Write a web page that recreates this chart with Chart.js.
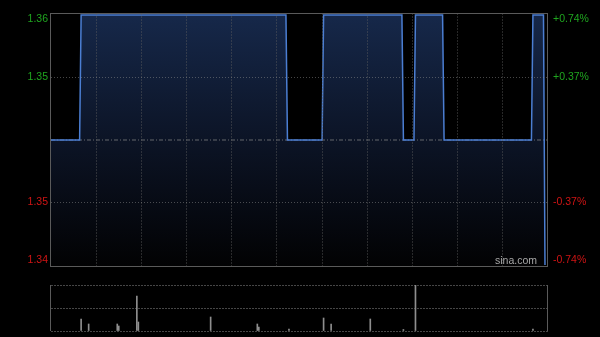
<!DOCTYPE html>
<html><head><meta charset="utf-8">
<script src="https://cdn.jsdelivr.net/npm/chart.js@4/dist/chart.umd.min.js"></script>
<style>html,body{margin:0;padding:0;background:#000;width:600px;height:337px;overflow:hidden}
canvas{position:absolute;left:0;top:0}</style></head>
<body>
<canvas id="main" width="600" height="337"></canvas>
<canvas id="vol" width="600" height="337"></canvas>
<script>
// Price path: minute index of each turning point and price there
const minutes = [0,19,20,156,157,180,181,233,234,241,242,260,261,319,320,327,328];
const prices  = [1.35,1.35,1.36,1.36,1.35,1.35,1.36,1.36,1.35,1.35,1.36,1.36,1.35,1.35,1.36,1.36,1.34];
const prevClose = 1.35;
const sessionMinutes = 330;
const priceTicks = [1.36, 1.355, 1.345, 1.34];
const priceTickLabels = ['1.36', '1.35', '1.35', '1.34'];
const pctTickLabels = ['+0.74%', '+0.37%', '-0.37%', '-0.74%'];
// Volume bars (relative units)
const volMinutes = [20,25,44,45,57,58,106,137,138,158,181,186,212,234,242,320];
const volumes    = [12,7,7,5,35,9,14,7,4,2,13,7,12,1.5,46,2];

const GREEN = '#1fa51f', RED = '#d01414', FONT = '"Liberation Sans", Arial, sans-serif';

const gradFn = (c) => {
  const ca = c.chart.chartArea;
  if (!ca) return 'rgba(20,35,65,1)';
  const g = c.chart.ctx.createLinearGradient(0, ca.top, 0, ca.bottom);
  g.addColorStop(0, '#16284a');
  g.addColorStop(0.5, '#0c1426');
  g.addColorStop(1, '#020203');
  return g;
};

const mainDecor = {
  id: 'mainDecor',
  afterDraw(chart) {
    const {ctx, chartArea: a, scales} = chart;
    ctx.save();
    ctx.strokeStyle = '#5a5a5a'; ctx.lineWidth = 1;
    ctx.strokeRect(Math.round(a.left) - 0.5, Math.round(a.top) + 0.5, Math.round(a.right - a.left), Math.round(a.bottom - a.top));
    ctx.font = '10.5px ' + FONT;
    ctx.textBaseline = 'middle';
    const y = scales.y;
    priceTicks.forEach((v, i) => {
      let py = y.getPixelForValue(v);
      if (i === 0) py += 4;
      if (i === priceTicks.length - 1) py -= 5;
      ctx.fillStyle = v > prevClose ? GREEN : RED;
      ctx.textAlign = 'right';
      ctx.fillText(priceTickLabels[i], a.left - 3, py);
      ctx.textAlign = 'left';
      ctx.fillText(pctTickLabels[i], a.right + 5, py);
    });
    ctx.fillStyle = '#a8a8a8';
    ctx.textAlign = 'right';
    ctx.fillText('sina.com', a.right - 11, a.bottom - 5);
    ctx.restore();
  }
};

new Chart(document.getElementById('main'), {
  type: 'line',
  data: { datasets: [
    { label: 'price', data: minutes.map((m, i) => ({x: m, y: prices[i]})),
      borderColor: '#4b7ed2', borderWidth: 1.5, pointRadius: 0, tension: 0,
      fill: 'start', backgroundColor: gradFn, order: 0 },
    { label: 'prev', data: [{x: 0, y: prevClose}, {x: sessionMinutes, y: prevClose}],
      borderColor: 'rgba(140,140,140,0.7)', borderWidth: 1, borderDash: [4, 2, 1, 2],
      pointRadius: 0, fill: false, order: 1 }
  ]},
  options: {
    responsive: false, animation: false, devicePixelRatio: 1,
    layout: { padding: { left: 51, right: 52, top: 13, bottom: 71 } },
    plugins: { legend: { display: false }, tooltip: { enabled: false },
               filler: { drawTime: 'beforeDatasetsDraw' } },
    scales: {
      x: { type: 'linear', min: 0, max: sessionMinutes,
           ticks: { display: false, stepSize: 30 },
           grid: { drawTicks: false, z: 1,
                   color: (c) => (c.tick && (c.tick.value === 0 || c.tick.value === sessionMinutes)) ? 'rgba(0,0,0,0)' : 'rgba(95,95,95,0.42)' },
           border: { display: false, dash: [2, 1] } },
      y: { type: 'linear', min: 1.33992, max: 1.36016,
           afterBuildTicks: (s) => { s.ticks = priceTicks.slice(1, 3).map(v => ({value: v})); },
           ticks: { display: false },
           grid: { drawTicks: false, z: 1, color: 'rgba(140,140,140,0.5)' },
           border: { display: false, dash: [1, 2] } }
    }
  },
  plugins: [mainDecor]
});

const volDecor = {
  id: 'volDecor',
  afterDraw(chart) {
    const {ctx, chartArea: a} = chart;
    ctx.save();
    ctx.strokeStyle = '#5a5a5a'; ctx.lineWidth = 1;
    ctx.beginPath();
    ctx.moveTo(Math.round(a.left) - 0.5, a.top); ctx.lineTo(Math.round(a.left) - 0.5, a.bottom);
    ctx.moveTo(Math.round(a.right) - 0.5, a.top); ctx.lineTo(Math.round(a.right) - 0.5, a.bottom);
    ctx.stroke();
    ctx.restore();
  }
};

new Chart(document.getElementById('vol'), {
  type: 'bar',
  data: { datasets: [
    { label: 'volume', data: volMinutes.map((m, i) => ({x: m, y: volumes[i]})),
      backgroundColor: '#8e8e8e', barThickness: 1, borderWidth: 0 }
  ]},
  options: {
    responsive: false, animation: false, devicePixelRatio: 1,
    layout: { padding: { left: 51, right: 52, top: 285, bottom: 6 } },
    plugins: { legend: { display: false }, tooltip: { enabled: false } },
    scales: {
      x: { type: 'linear', min: 0, max: sessionMinutes, offset: false, display: false },
      y: { min: 0, max: 46, ticks: { display: false, stepSize: 23 },
           grid: { drawTicks: false, color: 'rgba(100,100,100,0.7)' },
           border: { display: false, dash: [2, 1] } }
    }
  },
  plugins: [volDecor]
});
</script>
</body></html>
